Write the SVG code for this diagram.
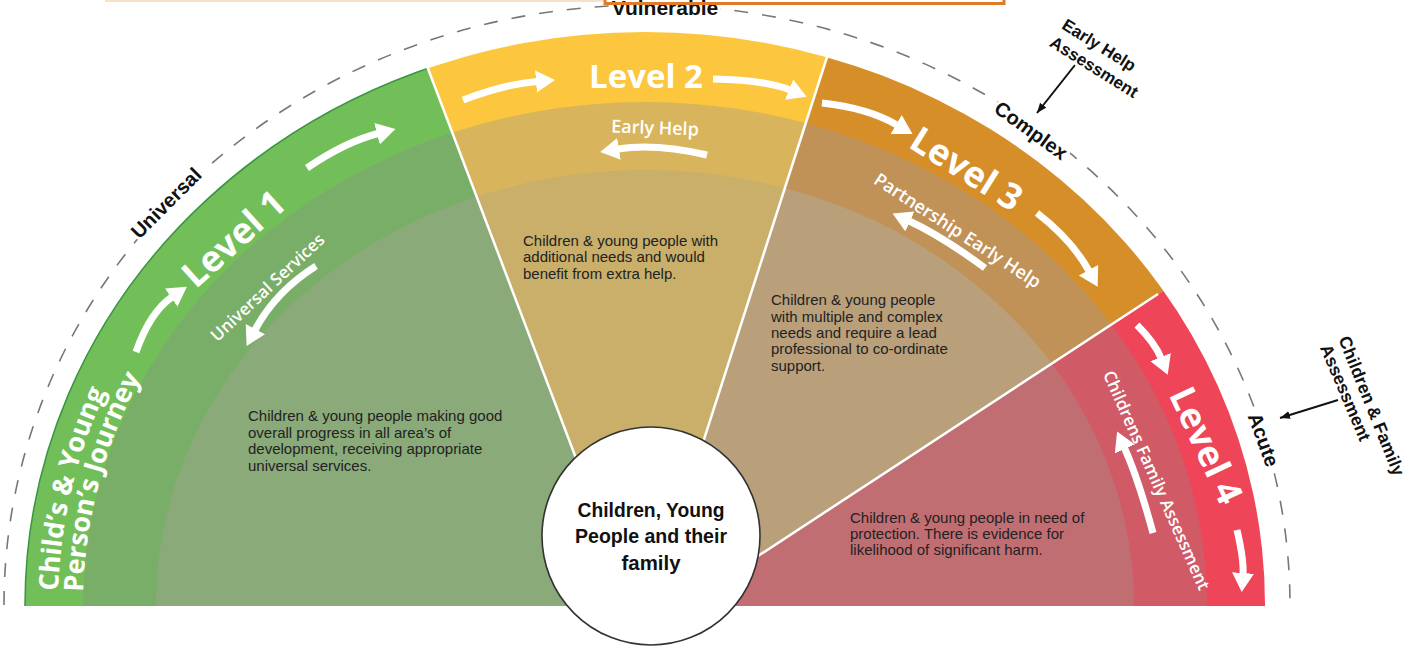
<svg xmlns="http://www.w3.org/2000/svg" width="1412" height="653" viewBox="0 0 1412 653">
<style>
.lvl{font-family:"Open Sans","Liberation Sans",sans-serif;font-weight:700;fill:#fff;text-anchor:middle;dominant-baseline:central}
.jr{font-family:"Open Sans","Liberation Sans",sans-serif;font-weight:700;fill:#fff;font-size:27px}
.sub{font-family:"Open Sans","Liberation Sans",sans-serif;font-weight:600;fill:#fff;text-anchor:middle;dominant-baseline:central}
.body{font-family:"Liberation Sans",Arial,sans-serif;font-size:15px;fill:#222}
.out{font-family:"Liberation Sans",Arial,sans-serif;font-weight:700;fill:#111;text-anchor:middle;paint-order:stroke;stroke:#fff;stroke-width:6px;stroke-linejoin:round}
.ctr{font-family:"Liberation Sans Narrow","Liberation Sans",Arial,sans-serif;font-weight:700;font-size:21px;fill:#111;text-anchor:middle}
.warr{fill:none;stroke:#fff;stroke-width:7;marker-end:url(#wh)}
.barr{fill:none;stroke:#111;stroke-width:2;marker-end:url(#bh)}
.sep{stroke:#fff;stroke-width:2.5;fill:none}
</style>
<defs>
<clipPath id="base"><rect x="0" y="0" width="1412" height="606"/></clipPath>
<clipPath id="w1"><polygon points="-200,-200 325,-200 642,632 -200,632"/></clipPath>
<clipPath id="w2"><polygon points="325,-200 910,-200 642,632"/></clipPath>
<clipPath id="w3"><polygon points="910,-200 1600,-200 1600,5 642,632"/></clipPath>
<clipPath id="w4"><polygon points="642,632 1600,5 1600,700 642,700"/></clipPath>
<path id="jp1" d="M58,605 A587,540 0 0 1 645,65"/>
<path id="jp2" d="M83,605 A562,515 0 0 1 645,90"/>
<marker id="wh" markerUnits="userSpaceOnUse" markerWidth="24" markerHeight="24" refX="1" refY="11" orient="auto"><path d="M0,0 L19,11 L0,22 z" fill="#fff"/></marker>
<marker id="bh" markerUnits="userSpaceOnUse" markerWidth="12" markerHeight="10" refX="10" refY="4" orient="auto"><path d="M0,0 L10,4 L0,8 z" fill="#111"/></marker>
</defs>
<rect width="1412" height="653" fill="#fff"/>
<path d="M105,1 H605" stroke="#f9e0cb" stroke-width="2" fill="none"/>
<path d="M4,605 A643,600 0 0 1 1290,605" fill="none" stroke="#777" stroke-width="1.6" stroke-dasharray="14 14"/>
<g clip-path="url(#base)">
<g id="node-level1">
<g clip-path="url(#w1)">
<ellipse cx="645" cy="605" rx="620" ry="573" fill="#72BF5A" stroke="#3a9440" stroke-width="1.5"/>
<ellipse cx="645" cy="605" rx="562" ry="503" fill="#79AE68"/>
<ellipse cx="645" cy="605" rx="489" ry="435" fill="#8AAA79"/>
</g>
<text class="lvl" font-size="36" transform="translate(233,238) rotate(-42)">Level 1</text>
<text class="sub" font-size="17" transform="translate(267,287) rotate(-43)">Universal Services</text>
<text class="jr"><textPath href="#jp1" startOffset="14">Child’s &amp; Young</textPath></text>
<text class="jr"><textPath href="#jp2" startOffset="13">Person’s Journey</textPath></text>
<text class="body" x="248" y="421">Children &amp; young people making good</text>
<text class="body" x="248" y="437.5">overall progress in all area’s of</text>
<text class="body" x="248" y="454">development, receiving appropriate</text>
<text class="body" x="248" y="470.5">universal services.</text>
</g>
<g id="node-level2">
<g clip-path="url(#w2)">
<ellipse cx="645" cy="605" rx="620" ry="573" fill="#FCC63F"/>
<ellipse cx="645" cy="605" rx="562" ry="503" fill="#D8B55C"/>
<ellipse cx="645" cy="605" rx="489" ry="435" fill="#C9AF69"/>
</g>
<text class="lvl" font-size="33" x="646" y="75">Level 2</text>
<text class="sub" font-size="18" transform="translate(655,127) rotate(2)">Early Help</text>
<text class="body" x="523" y="246">Children &amp; young people with</text>
<text class="body" x="523" y="262">additional needs and would</text>
<text class="body" x="523" y="278.5">benefit from extra help.</text>
</g>
<g id="node-level3">
<g clip-path="url(#w3)">
<ellipse cx="645" cy="605" rx="620" ry="573" fill="#D68E28"/>
<ellipse cx="645" cy="605" rx="562" ry="503" fill="#C19257"/>
<ellipse cx="645" cy="605" rx="489" ry="435" fill="#B9A07B"/>
</g>
<text class="lvl" font-size="36" transform="translate(967,168) rotate(32)">Level 3</text>
<text class="sub" font-size="18" transform="translate(958,230) rotate(33)">Partnership Early Help</text>
<text class="body" x="771" y="305">Children &amp; young people</text>
<text class="body" x="771" y="321.5">with multiple and complex</text>
<text class="body" x="771" y="338">needs and require a lead</text>
<text class="body" x="771" y="354">professional to co-ordinate</text>
<text class="body" x="771" y="370.5">support.</text>
</g>
<g id="node-level4">
<g clip-path="url(#w4)">
<ellipse cx="645" cy="605" rx="620" ry="573" fill="#EF4558"/>
<ellipse cx="645" cy="605" rx="562" ry="503" fill="#D15A67"/>
<ellipse cx="645" cy="605" rx="489" ry="435" fill="#C16E73"/>
</g>
<text class="lvl" font-size="36" transform="translate(1207,445) rotate(65)">Level 4</text>
<text class="sub" font-size="17" transform="translate(1157,480) rotate(66)">Childrens Family Assessment</text>
<text class="body" x="850" y="523">Children &amp; young people in need of</text>
<text class="body" x="850" y="539">protection. There is evidence for</text>
<text class="body" x="850" y="555">likelihood of significant harm.</text>
</g>
<g id="separators">
<line class="sep" x1="427" y1="66" x2="642" y2="632"/>
<line class="sep" x1="828" y1="54" x2="642" y2="632"/>
<line class="sep" x1="1158" y1="294" x2="642" y2="632"/>
</g>
</g>
<g id="connectors">
<path class="warr" d="M136,352 Q150,312 172,297"/>
<path class="warr" d="M307,168 Q345,142 378,133.5"/>
<path class="warr" d="M316,266 Q275,292 255,330"/>
<path class="warr" d="M463,100 Q505,84 537,81.4"/>
<path class="warr" d="M713,79 Q765,80 790,90"/>
<path class="warr" d="M707,155 Q655,143 618,149"/>
<path class="warr" d="M822,103 Q868,108 897,125"/>
<path class="warr" d="M1037,213 Q1072,240 1089,271"/>
<path class="warr" d="M985,268 Q940,235 909,221"/>
<path class="warr" d="M1137,325 Q1155,343 1161,358"/>
<path class="warr" d="M1237,530 Q1244,560 1243,574"/>
<path class="warr" d="M1153,533 Q1138,478 1124.5,448"/>
<path class="barr" d="M1075,65 L1037,113"/>
<path class="barr" d="M1338,400 L1280,418"/>
</g>
<g id="node-center">
<circle cx="651" cy="536" r="109" fill="#fff" stroke="#333" stroke-width="1.6"/>
<text class="ctr" x="651" y="517" textLength="147" lengthAdjust="spacingAndGlyphs">Children, Young</text>
<text class="ctr" x="651" y="543" textLength="152" lengthAdjust="spacingAndGlyphs">People and their</text>
<text class="ctr" x="651" y="570" textLength="59" lengthAdjust="spacingAndGlyphs">family</text>
</g>
<g id="outer-labels">
<text class="out" font-size="20" transform="translate(171,208) rotate(-45)">Universal</text>
<text class="out" font-size="21" x="665" y="15">Vulnerable</text>
<text class="out" font-size="20" transform="translate(1027,136) rotate(36)">Complex</text>
<text class="out" font-size="17" style="font-weight:600" transform="translate(1096,50) rotate(32)">Early Help</text>
<text class="out" font-size="17" style="font-weight:600" transform="translate(1091,72) rotate(32)">Assessment</text>
<text class="out" font-size="20" transform="translate(1257,442) rotate(70)">Acute</text>
<text class="out" font-size="17.5" style="font-weight:600" transform="translate(1366,408) rotate(68)">Children &amp; Family</text>
<text class="out" font-size="17.5" style="font-weight:600" transform="translate(1340,395) rotate(67)">Assessment</text>
</g>
<path d="M605,0 V3.5 H1004 V0" fill="none" stroke="#E07B2A" stroke-width="3"/>
</svg>
